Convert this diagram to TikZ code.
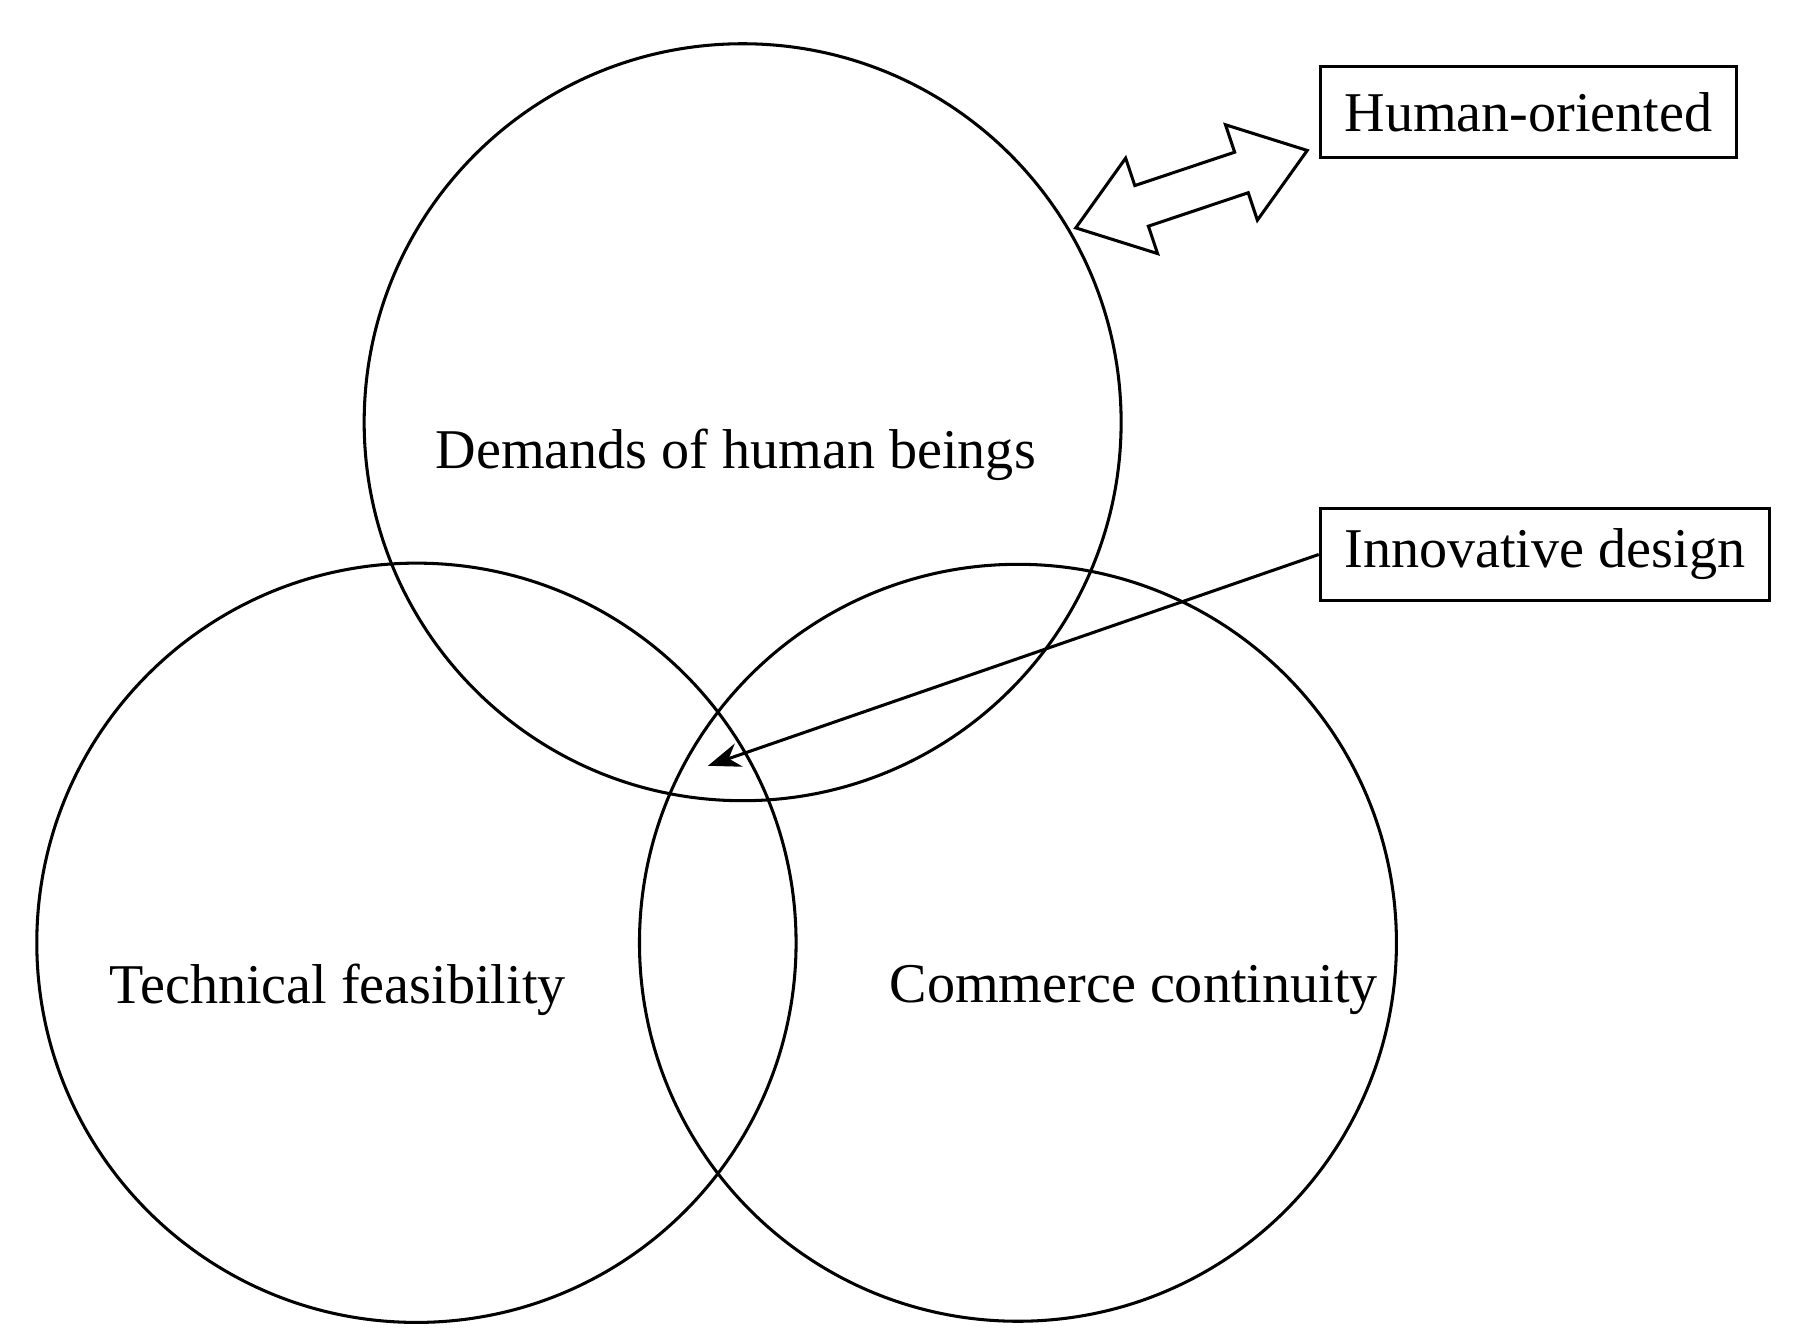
\documentclass[tikz,border=0pt]{standalone}
\usepackage{fontspec}
\setmainfont{Liberation Serif}
\usetikzlibrary{arrows.meta}
\begin{document}
\begin{tikzpicture}[x=0.01cm,y=-0.01cm,line width=0.75pt,
  lbl/.style={font=\fontsize{13.8}{16}\selectfont},
  boxed/.style={draw,lbl,inner sep=0pt,anchor=north west}]
\useasboundingbox (0,0) rectangle (1550,1160);
\node[circle,draw,minimum size=6.54cm,inner sep=0] (top) at (642,365) {};
\node[circle,draw,minimum size=6.56cm,inner sep=0] (left) at (360,815) {};
\node[circle,draw,minimum size=6.54cm,inner sep=0] (right) at (880,815) {};
\node[lbl] (t1) at (636,393) {Demands of human beings};
\node[lbl] (t2) at (292,856) {Technical feasibility};
\node[lbl] (t3) at (980,856) {Commerce continuity};
\node[boxed,minimum width=3.6cm,minimum height=0.79cm] (ho) at (1140,56) {Human-oriented};
\node[boxed,minimum width=3.88cm,minimum height=0.8cm] (id) at (1140,438) {Innovative design};
\coordinate (tip) at (612,662);
\draw[-{Stealth[length=8pt,width=6pt]}] (id.west) -- (tip);
\begin{scope}[shift={(930,197)},rotate=18.5]
\draw[line join=miter] (0,0) -- (60,43.5) -- (60,18.5) -- (151,18.5) -- (151,43.5) -- (211,0)
 -- (151,-43.5) -- (151,-18.5) -- (60,-18.5) -- (60,-43.5) -- cycle;
\end{scope}
\end{tikzpicture}
\end{document}
